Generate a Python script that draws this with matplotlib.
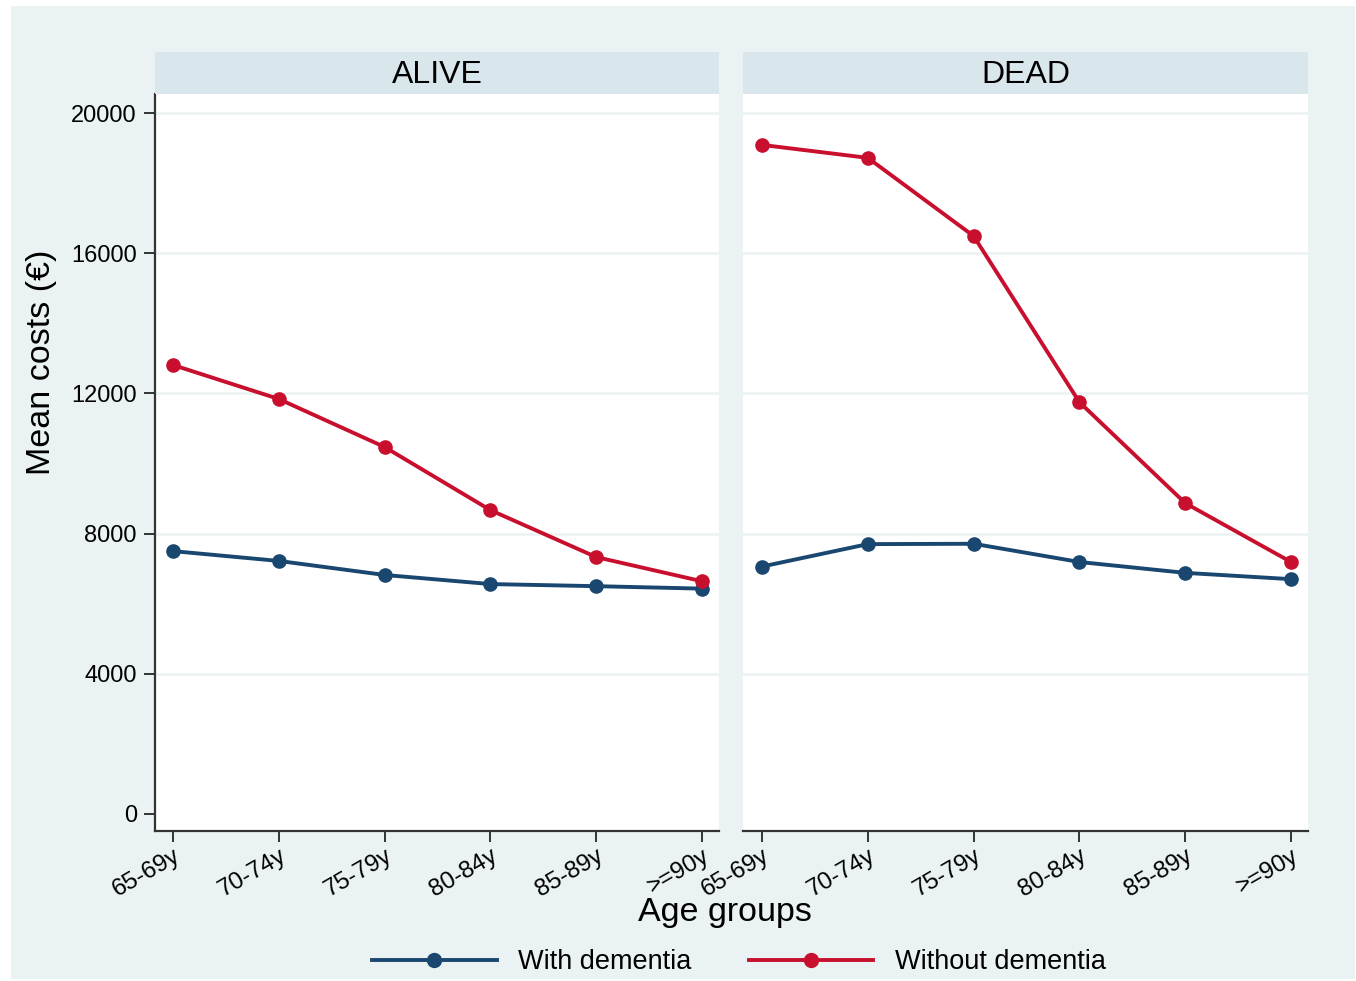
import matplotlib
matplotlib.use("Agg")
import matplotlib.pyplot as plt
from matplotlib.patches import Rectangle
from matplotlib.lines import Line2D

plt.rcParams['font.family'] = ['Liberation Sans', 'DejaVu Sans']

age_groups = ["65-69y", "70-74y", "75-79y", "80-84y", "85-89y", ">=90y"]
panels = ["ALIVE", "DEAD"]
alive_with = [7500, 7220, 6820, 6560, 6500, 6430]
alive_without = [12810, 11840, 10470, 8670, 7330, 6640]
dead_with = [7060, 7700, 7710, 7190, 6880, 6700]
dead_without = [19090, 18720, 16490, 11750, 8870, 7190]
series_names = ["With dementia", "Without dementia"]
yticks = [0, 4000, 8000, 12000, 16000, 20000]

NAVY = "#1A476F"
RED = "#C8102E"
BG = "#EAF2F3"
STRIP = "#D9E6EB"
AX = "#333333"

W, H = 1356, 981
fig = plt.figure(figsize=(W / 100, H / 100), dpi=100)
fig.patch.set_facecolor("white")
bg = Rectangle((11 / W, 1 - 979 / H), (1355 - 11) / W, (979 - 6) / H,
               transform=fig.transFigure, facecolor=BG, edgecolor="none", zorder=-10)
fig.add_artist(bg)

def fx(px):
    return px / W

def fy(py):
    return 1 - py / H

panel_x = [(155, 719), (743, 1308)]
first_pt = [173, 762]
step = (702 - 173) / 5.0
data = [(alive_with, alive_without), (dead_with, dead_without)]

y0_px, y20_px = 814, 113
per = (y0_px - y20_px) / 20000.0
ylo = -(831 - y0_px) / per
yhi = 20000 + (y20_px - 94) / per

for i, (x0, x1) in enumerate(panel_x):
    ax = fig.add_axes([fx(x0), fy(831), fx(x1 - x0), (831 - 94) / H])
    ax.set_facecolor("white")
    xs = list(range(len(age_groups)))
    xlo = -(first_pt[i] - x0) / step
    xhi = 5 + (x1 - (first_pt[i] + 5 * step)) / step
    ax.set_xlim(xlo, xhi)
    ax.set_ylim(ylo, yhi)
    for t in yticks[1:]:
        ax.axhline(t, color=BG, lw=1.8, zorder=1)
    w, wo = data[i]
    ax.plot(xs, w, color=NAVY, lw=2.8, marker="o", ms=9.5, zorder=3)
    ax.plot(xs, wo, color=RED, lw=2.8, marker="o", ms=9.5, zorder=4)
    for s in ["top", "right"]:
        ax.spines[s].set_visible(False)
    ax.spines["bottom"].set_color(AX)
    ax.spines["bottom"].set_linewidth(1.6)
    ax.set_xticks(xs)
    ax.set_xticklabels(age_groups, rotation=30, ha="right", va="top",
                       rotation_mode="anchor", fontsize=17.5)
    ax.tick_params(axis="x", length=8, width=1.4, color=AX, pad=2)
    if i == 0:
        ax.spines["left"].set_color(AX)
        ax.spines["left"].set_linewidth(1.6)
        ax.set_yticks(yticks)
        ax.set_yticklabels([str(t) for t in yticks], fontsize=17)
        ax.tick_params(axis="y", length=8, width=1.4, color=AX, pad=5)
    else:
        ax.spines["left"].set_visible(False)
        ax.set_yticks([])
    # strip
    sax = fig.add_axes([fx(x0), fy(94), fx(x1 - x0), 42 / H])
    sax.set_facecolor(STRIP)
    for s in sax.spines.values():
        s.set_visible(False)
    sax.set_xticks([])
    sax.set_yticks([])
    sax.text(0.5, 0.45, panels[i], ha="center", va="center", fontsize=23,
             transform=sax.transAxes)

fig.text(fx(725), fy(912), "Age groups", ha="center", va="center", fontsize=24.5)
fig.text(fx(42), fy(362), "Mean costs (€)", ha="center", va="center",
         rotation=90, fontsize=24.5)

handles = [Line2D([], [], color=NAVY, lw=2.8, marker="o", ms=10),
           Line2D([], [], color=RED, lw=2.8, marker="o", ms=10)]
fig.legend(handles, series_names, loc="center", bbox_to_anchor=(fx(739), fy(962)),
           ncol=2, frameon=False, fontsize=19.5, handlelength=4.6,
           handletextpad=0.8, columnspacing=2.1, numpoints=1)

fig.savefig("out.png", dpi=100, facecolor="white")
